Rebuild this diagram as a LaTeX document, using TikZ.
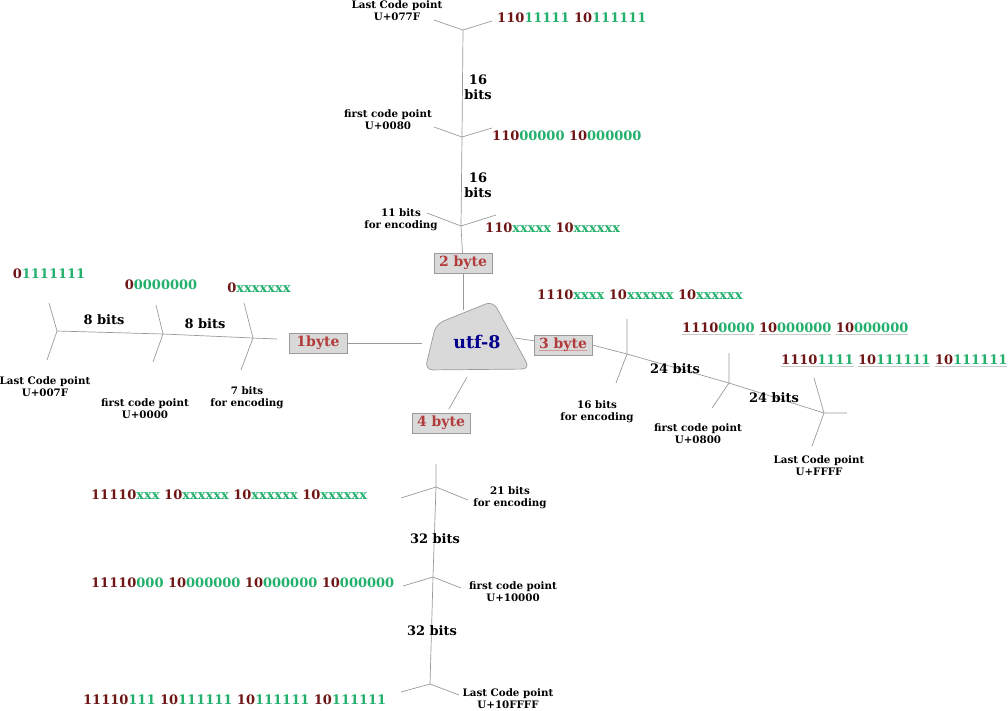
\documentclass[tikz,border=0pt]{standalone}
\usepackage{fontspec}
\setmainfont{DejaVu Serif}
\usepackage{xcolor}
\usetikzlibrary{positioning}

\definecolor{bitred}{HTML}{6E1616}
\definecolor{bitgreen}{HTML}{22B06C}
\definecolor{boxred}{HTML}{B23B3B}
\definecolor{hubblue}{HTML}{00008C}
\definecolor{linegray}{HTML}{9A9A9A}
\definecolor{boxgray}{HTML}{D9D9D9}
\definecolor{spellgray}{HTML}{C8C8C8}
\definecolor{spellpink}{HTML}{D49A9A}

\newcommand{\bitgrp}[2]{{\color{bitred}#1}{\color{bitgreen}#2}}
\newcommand{\spellmark}[2][spellgray]{\leavevmode\setbox0\hbox{#2}\rlap{\color{#1}\rule[-2.2pt]{\wd0}{0.6pt}}\box0\relax}

\begin{document}
\begin{tikzpicture}[x=1pt,y=-1pt,
                conn/.style={draw=linegray, line width=0.7pt},
                bytebox/.style={rectangle, draw=linegray, fill=boxgray, minimum width=58pt, minimum height=20pt,
                    inner sep=0pt, text=boxred, font=\bfseries\fontsize{14}{16}\selectfont},
                bitcode/.style={inner sep=0pt, font=\bfseries\fontsize{13}{15}\selectfont},
                bitnote/.style={align=center, inner sep=0pt, font=\bfseries\fontsize{10.3}{12}\selectfont},
                bitspan/.style={align=center, inner sep=0pt, font=\bfseries\fontsize{13}{15}\selectfont}]
                \useasboundingbox (0,0) rectangle (1008,710);
                \draw[conn, fill=boxgray, rounded corners=8pt] (436,324) -- (493,301) -- (530,369) -- (425,370) -- cycle;
                \node (utf) at (477,342) [text=hubblue, font=\bfseries\fontsize{17.5}{20}\selectfont]{utf-8};
                \coordinate (hub-n) at (463,310);
                \coordinate (hub-w) at (422,343);
                \coordinate (hub-e) at (515,338);
                \coordinate (hub-s) at (467,377);

                \node (b2) at (463,263) [bytebox]{2 byte};
                \node (b1) at (318,343) [bytebox]{1byte};
                \node (b3) at (563,345) [bytebox]{\spellmark[spellpink]{3 byte}};
                \node (b4) at (441,423) [bytebox]{4 byte};
                \draw[conn] (hub-n) -- (b2);
                \draw[conn] (hub-w) -- (b1);
                \draw[conn] (hub-e) -- (b3);
                \draw[conn, shorten >=4pt] (hub-s) -- (b4);

                \coordinate (n1) at (461,226);
                \coordinate (n2) at (462,137);
                \coordinate (n3) at (463,30);
                \coordinate (n1-l) at (427,213);
                \coordinate (n1-r) at (496,215);
                \coordinate (n2-l) at (434,127);
                \coordinate (n2-r) at (492,128);
                \coordinate (n3-l) at (434,20);
                \coordinate (n3-r) at (492,21);
                \draw[conn] (b2) -- (n1) -- (n2) -- (n3);
                \draw[conn] (n1-l) -- (n1) -- (n1-r);
                \draw[conn] (n2-l) -- (n2) -- (n2-r);
                \draw[conn] (n3-l) -- (n3) -- (n3-r);
                \node (n1-note) at (401,220) [bitnote]{11 bits\\for encoding};
                \node (n2-note) at (388,120) [bitnote]{first code point\\U+0080};
                \node (n3-note) at (397,11) [bitnote]{Last Code point\\U+077F};
                \node (n1-code) at (485,228) [bitcode, anchor=west]{\bitgrp{110}{xxxxx} \bitgrp{10}{xxxxxx}};
                \node (n2-code) at (492,136) [bitcode, anchor=west]{\bitgrp{110}{00000} \bitgrp{10}{000000}};
                \node (n3-code) at (497,18) [bitcode, anchor=west]{\bitgrp{110}{11111} \bitgrp{10}{111111}};
                \node (n-span1) at (478,185) [bitspan]{16\\bits};
                \node (n-span2) at (478,87) [bitspan]{16\\bits};

                \coordinate (w0) at (277,339);
                \coordinate (w1) at (253,338);
                \coordinate (w2) at (163,334);
                \coordinate (w3) at (57,331);
                \coordinate (w1-u) at (244,303);
                \coordinate (w1-d) at (241,370);
                \coordinate (w2-u) at (156,305);
                \coordinate (w2-d) at (153,362);
                \coordinate (w3-u) at (49,303);
                \coordinate (w3-d) at (47,360);
                \draw[conn] (w0) -- (w1) -- (w2) -- (w3);
                \draw[conn] (w1-u) -- (w1) -- (w1-d);
                \draw[conn] (w2-u) -- (w2) -- (w2-d);
                \draw[conn] (w3-u) -- (w3) -- (w3-d);
                \node (w1-code) at (259,288) [bitcode]{\bitgrp{0}{xxxxxxx}};
                \node (w2-code) at (161,285) [bitcode]{\bitgrp{0}{0000000}};
                \node (w3-code) at (49,274) [bitcode]{\bitgrp{0}{1111111}};
                \node (w1-note) at (247,398) [bitnote]{7 bits\\for encoding};
                \node (w2-note) at (145,409) [bitnote]{first code point\\U+0000};
                \node (w3-note) at (45,387) [bitnote]{Last Code point\\U+007F};
                \node (w-span1) at (205,324) [bitspan]{8 bits};
                \node (w-span2) at (104,320) [bitspan]{8 bits};

                \coordinate (e1) at (627,354);
                \coordinate (e2) at (729,383);
                \coordinate (e3) at (824,413);
                \coordinate (e1-u) at (627,319);
                \coordinate (e1-d) at (616,383);
                \coordinate (e2-u) at (729,353);
                \coordinate (e2-d) at (712,408);
                \coordinate (e3-u) at (814,378);
                \coordinate (e3-d) at (812,446);
                \coordinate (e3-r) at (847,413);
                \draw[conn] (b3.east) -- (e1) -- (e2) -- (e3) -- (e3-r);
                \draw[conn] (e1-u) -- (e1) -- (e1-d);
                \draw[conn] (e2-u) -- (e2) -- (e2-d);
                \draw[conn] (e3-u) -- (e3) -- (e3-d);
                \node (e1-code) at (537,295) [bitcode, anchor=west]{\bitgrp{1110}{xxxx} \bitgrp{10}{xxxxxx} \bitgrp{10}{xxxxxx}};
                \node (e2-code) at (682,329) [bitcode, anchor=west]{\spellmark{\bitgrp{1110}{0000}} \spellmark{\bitgrp{10}{000000}} \spellmark{\bitgrp{10}{000000}}};
                \node (e3-code) at (781,361) [bitcode, anchor=west]{\spellmark{\bitgrp{1110}{1111}} \spellmark{\bitgrp{10}{111111}} \spellmark{\bitgrp{10}{111111}}};
                \node (e1-note) at (597,412) [bitnote]{16 bits\\for encoding};
                \node (e2-note) at (698,434) [bitnote]{first code point\\U+0800};
                \node (e3-note) at (819,466) [bitnote]{Last Code point\\U+FFFF};
                \node (e-span1) at (675,369) [bitspan]{24 bits};
                \node (e-span2) at (774,398) [bitspan]{24 bits};

                \coordinate (s0) at (436,464);
                \coordinate (s1) at (436,487);
                \coordinate (s2) at (433,577);
                \coordinate (s3) at (430,684);
                \coordinate (s1-l) at (401,498);
                \coordinate (s1-r) at (468,500);
                \coordinate (s2-l) at (403,586);
                \coordinate (s2-r) at (461,588);
                \coordinate (s3-l) at (401,692);
                \coordinate (s3-r) at (459,695);
                \draw[conn] (s0) -- (s1) -- (s2) -- (s3);
                \draw[conn] (s1-l) -- (s1) -- (s1-r);
                \draw[conn] (s2-l) -- (s2) -- (s2-r);
                \draw[conn] (s3-l) -- (s3) -- (s3-r);
                \node (s1-code) at (91,495) [bitcode, anchor=west]{\bitgrp{11110}{xxx} \bitgrp{10}{xxxxxx} \bitgrp{10}{xxxxxx} \bitgrp{10}{xxxxxx}};
                \node (s2-code) at (91,583) [bitcode, anchor=west]{\bitgrp{11110}{000} \bitgrp{10}{000000} \bitgrp{10}{000000} \bitgrp{10}{000000}};
                \node (s3-code) at (83,700) [bitcode, anchor=west]{\bitgrp{11110}{111} \bitgrp{10}{111111} \bitgrp{10}{111111} \bitgrp{10}{111111}};
                \node (s1-note) at (510,498) [bitnote]{21 bits\\for encoding};
                \node (s2-note) at (513,592) [bitnote]{first code point\\U+10000};
                \node (s3-note) at (508,699) [bitnote]{Last Code point\\U+10FFFF};
                \node (s-span1) at (435,539) [bitspan]{32 bits};
                \node (s-span2) at (432,631) [bitspan]{32 bits};
\end{tikzpicture}
\end{document}
